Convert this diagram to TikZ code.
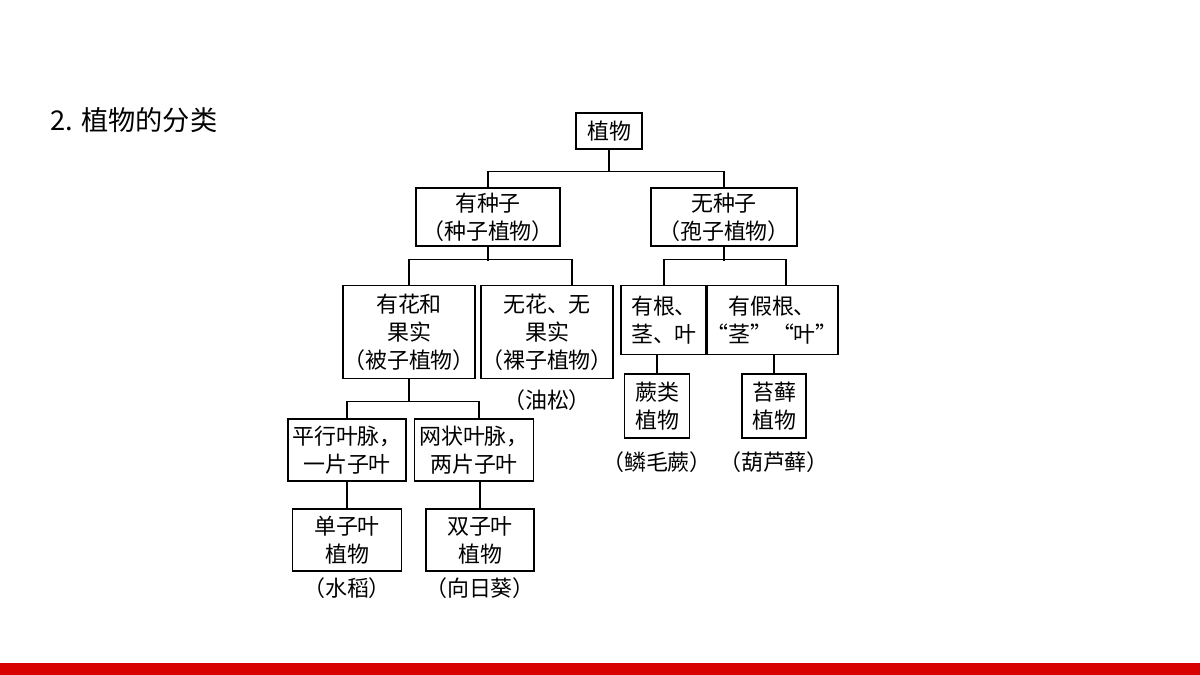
\documentclass[tikz,border=0pt]{standalone}
\usepackage{fontspec}
\newfontfamily\cjk{Noto Sans CJK SC}
\usetikzlibrary{positioning}

\begin{document}
\begin{tikzpicture}[
    x=0.02cm, y=-0.02cm,
    every node/.style={font=\cjk\fontsize{12.5}{16}\selectfont, align=center, inner sep=0pt},
    box/.style={draw, thick},
    link/.style={draw, thick},
  ]
  \useasboundingbox (0,0) rectangle (1200,675);
  \fill[red!85!black] (0,663) rectangle (1200,675);
  \node[anchor=west, font=\cjk\fontsize{15.5}{18}\selectfont] (title) at (50,120) {2. 植物的分类};

  % Boxes
  \node[box, minimum width=66*0.02cm, minimum height=36*0.02cm] (plant) at (609,131) {植物};
  \node[box, minimum width=144*0.02cm, minimum height=58*0.02cm] (seed) at (488,217) {有种子\\（种子植物）};
  \node[box, minimum width=146*0.02cm, minimum height=58*0.02cm] (spore) at (724,217) {无种子\\（孢子植物）};
  \node[box, minimum width=132*0.02cm, minimum height=93*0.02cm] (angio) at (409,332) {有花和\\果实\\（被子植物）};
  \node[box, minimum width=127*0.02cm, minimum height=93*0.02cm] (gymno) at (547,332) {无花、无\\果实\\（裸子植物）};
  \node[box, minimum width=86*0.02cm, minimum height=69*0.02cm] (root) at (664,320) {有根、\\茎、叶};
  \node[box, minimum width=113*0.02cm, minimum height=69*0.02cm] (fake) at (772,320) {有假根、\\“茎”“叶”};
  \node[box, minimum width=65*0.02cm, minimum height=64*0.02cm] (fern) at (657,406) {蕨类\\植物};
  \node[box, minimum width=64*0.02cm, minimum height=64*0.02cm] (moss) at (774,406) {苔藓\\植物};
  \node[box, minimum width=118*0.02cm, minimum height=62*0.02cm] (para) at (347,450) {平行叶脉，\\一片子叶};
  \node[box, minimum width=119*0.02cm, minimum height=62*0.02cm] (net) at (474,450) {网状叶脉，\\两片子叶};
  \node[box, minimum width=109*0.02cm, minimum height=62*0.02cm] (mono) at (347,540) {单子叶\\植物};
  \node[box, minimum width=108*0.02cm, minimum height=62*0.02cm] (di) at (480,540) {双子叶\\植物};

  % Examples
  \node (pine) at (547,400) {（油松）};
  \node (fernex) at (657,462) {（鳞毛蕨）};
  \node (mossex) at (774,462) {（葫芦藓）};
  \node (rice) at (347,588) {（水稻）};
  \node (sun) at (480,588) {（向日葵）};

  % Links
  \draw[link] (plant.south) -- (plant.south|-0,172);
  \draw[link] (seed.north) -- ++(0,-16) -| (spore.north);
  \draw[link] (seed.south) -- (seed.south|-0,261);
  \draw[link] (angio.north) -- ++(0,-25) -| ([xshift=25*0.02cm]gymno.north);
  \draw[link] (spore.south) -- (spore.south|-0,261);
  \draw[link] (root.north) -- ++(0,-25) -| ([xshift=14*0.02cm]fake.north);
  \draw[link] (angio.south) -- (angio.south|-0,402);
  \draw[link] (para.north) -- ++(0,-17) -| ([xshift=5*0.02cm]net.north);
  \draw[link] (fern.north) -- (fern.north|-root.south);
  \draw[link] (moss.north) -- (moss.north|-fake.south);
  \draw[link] (para.south) -- (mono.north);
  \draw[link] ([xshift=6*0.02cm]net.south) -- (di.north);
\end{tikzpicture}
\end{document}
